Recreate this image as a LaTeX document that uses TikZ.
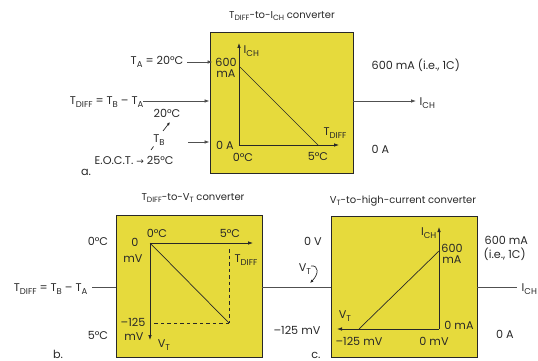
\documentclass[tikz,border=0pt]{standalone}
\usepackage{fontspec}
\setmainfont{Poppins}
\newfontfamily\symf{DejaVu Sans}
\usetikzlibrary{arrows.meta,fit}
\definecolor{boxy}{RGB}{230,218,60}
\definecolor{ink}{RGB}{40,40,40}
\definecolor{wire}{RGB}{80,80,80}
\newcommand{\sbs}[1]{\raisebox{-0.4ex}{\scalebox{0.76}{#1}}}
\tikzset{
  box/.style={draw=ink, fill=boxy, line width=0.9pt, inner sep=0pt},
  lbl/.style={font=\fontsize{11.2}{12}\selectfont, text=ink, inner sep=0.5pt},
  ttl/.style={font=\fontsize{10}{11}\selectfont, text=ink, inner sep=0.5pt},
  arr/.style={draw=wire, line width=0.8pt, -{Latex[length=5pt,width=3.6pt]}},
  wireline/.style={draw=wire, line width=0.8pt},
  axis/.style={draw=ink, line width=0.8pt, -{Latex[length=5pt,width=3.6pt]}},
  curve/.style={draw=ink, line width=0.7pt},
  dashline/.style={draw=ink, line width=0.7pt, dash pattern=on 3.5pt off 3pt},
}
\begin{document}
\begin{tikzpicture}[x=1pt,y=-1pt]
\useasboundingbox (0,0) rectangle (538,361);
%%%%%%%%%%%%%%%% part a
\node[box, fit={(210,32) (353,173)}] (boxA) {};
\node[ttl] (titleA) at (282,16) {T\sbs{DIFF}-to-I\sbs{CH} converter};
\node[lbl, anchor=east] (ta) at (184,62) {T\sbs{A} = 20°C};
\draw[arr] ([xshift=3pt]ta.east) -- ([xshift=3pt]ta.east -| boxA.west);
\node[lbl, anchor=east] (tdiffA) at (144,102) {T\sbs{DIFF} = T\sbs{B} – T\sbs{A}};
\coordinate (tdA) at (143,101);
\draw[arr] (tdA) -- (tdA -| boxA.west);
\node[lbl] (t20) at (167,113) {20°C};
\node[lbl] (tb) at (159,140) {T\sbs{B}};
\coordinate (tbu1) at (163,131);
\coordinate (tbu2) at (170,122);
\draw[draw=ink, line width=0.7pt, -{Latex[length=3.5pt,width=3pt]}] (tbu1) -- (tbu2);
\coordinate (tbd1) at (151,150);
\coordinate (tbd2) at (153.5,146.5);
\draw[draw=ink, line width=0.7pt] (tbd1) -- (tbd2);
\node[lbl, anchor=west] (eoct) at (94,160) {E.O.C.T. {\symf\fontsize{9}{10}\selectfont →} 25°C};
\coordinate (eA) at (188,142);
\draw[arr] (eA) -- (eA -| boxA.west);
\node[lbl] (la) at (86,172) {a.};
% graph a
\coordinate (oA) at (239,145);
\coordinate (yA) at (239,43);
\coordinate (xA) at (339,145);
\coordinate (dA1) at (240,67);
\coordinate (dA2) at (318,145);
\draw[axis] (oA) -- (yA);
\draw[axis] (oA) -- (xA);
\draw[curve] (dA1) -- (dA2);
\node[lbl, anchor=west] (ichA) at (243,51) {I\sbs{CH}};
\node[lbl] (a600) at (226,62) {600};
\node[lbl] (amA) at (226,74) {mA};
\node[lbl] (a0A) at (225,145) {0 A};
\node[lbl] (a0C) at (243,157) {0°C};
\node[lbl] (a5C) at (318,156) {5°C};
\node[lbl] (aTd) at (335,133) {T\sbs{DIFF}};
% right of a
\node[lbl, anchor=west] (a600r) at (371,65) {600 mA (i.e., 1C)};
\coordinate (aout) at (416,101);
\draw[arr] (aout -| boxA.east) -- (aout);
\node[lbl, anchor=west] (ichAr) at (419,103) {I\sbs{CH}};
\node[lbl, anchor=west] (a0Ar) at (371,149) {0 A};
%%%%%%%%%%%%%%%% part b
\node[box, fit={(116,215) (262,357)}] (boxB) {};
\node[ttl] (titleB) at (193,198) {T\sbs{DIFF}-to-V\sbs{T} converter};
\coordinate (oB) at (150,243);
\coordinate (xB) at (253,243);
\coordinate (yB) at (150,340);
\coordinate (cB) at (229,323);
\draw[axis] (oB) -- (xB);
\draw[axis] (oB) -- (yB);
\draw[curve] (oB) -- (cB);
\draw[dashline] (229,249) -- (cB);
\draw[dashline] (cB) -- (150,323);
\node[lbl] (b0C) at (157,233) {0°C};
\node[lbl] (b5C) at (230,233) {5°C};
\node[lbl] (b0) at (135,242) {0};
\node[lbl] (bmV) at (133,259) {mV};
\node[lbl] (bTd) at (246,260) {T\sbs{DIFF}};
\node[lbl] (b125) at (133,322) {–125};
\node[lbl] (bmV2) at (134,337) {mV};
\node[lbl] (bVT) at (164,345) {V\sbs{T}};
\node[lbl] (b0Cl) at (98,241) {0°C};
\node[lbl] (b5Cl) at (98,335) {5°C};
\node[lbl, anchor=east] (tdiffB) at (88,289) {T\sbs{DIFF} = T\sbs{B} – T\sbs{A}};
\coordinate (bin) at (92,287);
\draw[wireline] (bin) -- (bin -| boxB.west);
\node[lbl] (lb) at (58,354) {b.};
%%%%%%%%%%%%%%%% part c
\node[box, fit={(331,216) (477,357)}] (boxC) {};
\draw[wireline] (boxB.east |- bin) -- (boxC.west |- bin);
\node[ttl] (titleC) at (403,201) {V\sbs{T}-to-high-current converter};
\coordinate (oC) at (439,329);
\coordinate (yC) at (439,227);
\coordinate (xC) at (337,329);
\coordinate (dC1) at (359,329);
\coordinate (dC2) at (439,251);
\draw[axis] (oC) -- (yC);
\draw[axis] (oC) -- (xC);
\draw[curve] (dC1) -- (dC2);
\node[lbl, anchor=east] (ichC) at (437,233) {I\sbs{CH}};
\node[lbl] (c600) at (452,248) {600};
\node[lbl] (cmA) at (452,260) {mA};
\node[lbl] (c0mA) at (459,325) {0 mA};
\node[lbl] (cVT) at (345,316) {V\sbs{T}};
\node[lbl] (c125) at (359,341) {–125 mV};
\node[lbl] (c0mV) at (434,341) {0 mV};
\node[lbl] (c0V) at (313,241) {0 V};
\node[lbl] (cVTl) at (305,269) {V\sbs{T}};
\coordinate (cv1) at (311,266);
\coordinate (cv2) at (310,283);
\draw[draw=ink, line width=0.7pt, -{Latex[length=3.5pt,width=3pt]}] (cv1) .. controls (319,265) and (319,274) .. (cv2);
\node[lbl] (c125l) at (297,330) {–125 mV};
\node[lbl] (lc) at (316,355) {c.};
\node[lbl, anchor=west] (c600r) at (484,240) {600 mA};
\node[lbl, anchor=west] (cie) at (483,254) {(i.e., 1C)};
\coordinate (cout) at (517,287);
\draw[wireline] (cout -| boxC.east) -- (cout);
\node[lbl, anchor=west] (ichCr) at (521,289) {I\sbs{CH}};
\node[lbl] (c0A) at (505,334) {0 A};
\end{tikzpicture}
\end{document}
